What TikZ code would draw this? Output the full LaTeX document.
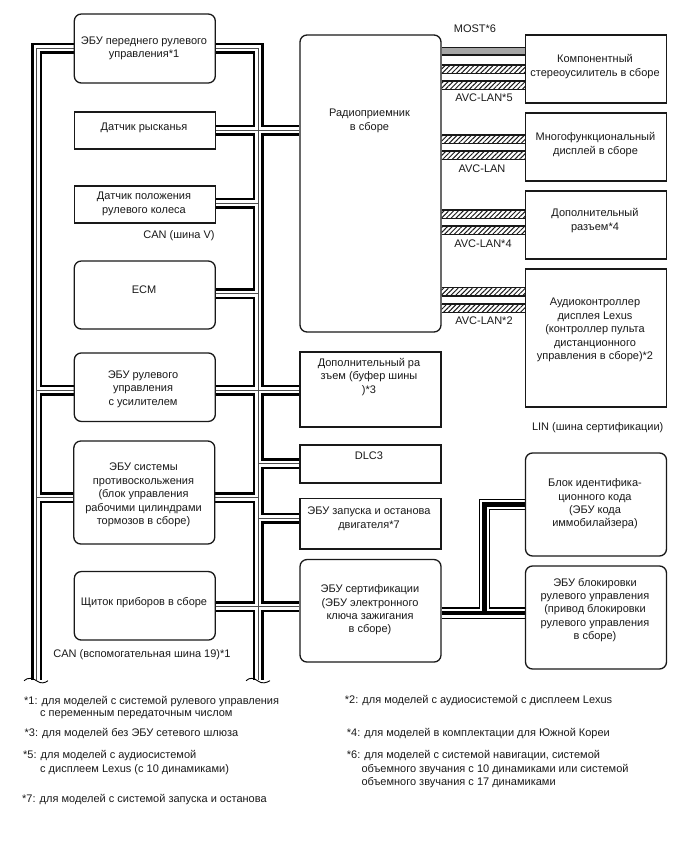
\documentclass[tikz,border=0pt]{standalone}
\usepackage{fontspec}
\setmainfont{Liberation Sans}
\usetikzlibrary{patterns.meta}
\pgfdeclarelayer{wiring}
\pgfsetlayers{wiring,main}
\tikzset{
  sqbox/.style={draw=black!90,line width=1.3pt,fill=white,inner sep=0pt,minimum width=#1},
  sqbox/.default=141pt,
  rbox/.style={sqbox=#1,rounded corners=7pt},
  rbox/.default=141pt,
  lbl/.style={font=\fontsize{11}{13.4}\selectfont,align=center,inner sep=0pt,text=black!90},
  note/.style={font=\fontsize{11}{13.4}\selectfont,align=left,anchor=west,inner sep=0pt,text=black!90},
  canA/.style={line width=11pt,draw=black},
  canB/.style={line width=6pt,draw=white},
  canC/.style={line width=1pt,draw=black!70},
  linA/.style={line width=11.4pt,draw=black},
  linB/.style={line width=9pt,draw=white},
  linC/.style={line width=4.8pt,draw=black},
  avc/.style={pattern={Lines[angle=45,distance=3.4pt,line width=1pt]},pattern color=black!90},
  most/.style={fill=black!35},
  barrim/.style={line width=1.3pt,draw=black!90},
  wave/.style={line width=0.9pt,draw=black}
}
\begin{document}
\begin{tikzpicture}[x=1pt,y=-1pt]
\useasboundingbox (0,0) rectangle (688,852);

% Bus trunks and junction points
\coordinate (LT) at (36.5,48);
\coordinate (RT) at (258,48);
\coordinate (LB) at (36.5,680);
\coordinate (RB) at (258,680);
\coordinate (jYaw) at (258,130);
\coordinate (jAngle) at (258,203);
\coordinate (jEcm) at (258,293.7);
\coordinate (jEps) at (258,390);
\coordinate (jAbs) at (258,497.5);
\coordinate (jDlc) at (258,463.5);
\coordinate (jStop) at (258,518);
\coordinate (jMeter) at (258,606.5);
\coordinate (kEps) at (36.5,390);
\coordinate (kAbs) at (36.5,497.5);
\coordinate (jLin) at (484.5,613);
\coordinate (jLinUp) at (484.5,504.3);

% Units on the left column
\node[rbox,minimum height=69pt] (front) at (144.8,48.5) {};
\node[sqbox,minimum height=37pt] (yaw) at (144.8,130.5) {};
\node[sqbox,minimum height=37pt] (angle) at (144.8,204.5) {};
\node[rbox,minimum height=68pt] (ecm) at (144.8,295) {};
\node[rbox,minimum height=68.5pt] (eps) at (144.8,387.2) {};
\node[rbox,minimum height=103pt] (abs) at (144.3,492.5) {};
\node[rbox,minimum height=68.5pt] (meter) at (144.8,605.8) {};

% Units on the middle column
\node[rbox,minimum height=297pt] (radio) at (370.5,183.5) {};
\node[sqbox,minimum height=75pt] (buffer) at (370.5,389.5) {};
\node[sqbox,minimum height=38pt] (dlc) at (370.5,464) {};
\node[sqbox,minimum height=50.5pt] (stop) at (370.5,523.8) {};
\node[rbox,minimum height=102.5pt] (cert) at (370.5,610.8) {};

% Units on the right column
\node[sqbox,minimum height=68pt] (amp) at (596,69) {};
\node[sqbox,minimum height=68pt] (mfd) at (596,147) {};
\node[sqbox,minimum height=68pt] (aux) at (596,225) {};
\node[sqbox,minimum height=138pt] (ctrl) at (596,338) {};
\node[rbox,minimum height=103pt] (ident) at (596,504.5) {};
\node[rbox,minimum height=103pt] (lock) at (596,617.5) {};

\begin{pgfonlayer}{wiring}
% CAN buses, built up from three strokes
\foreach \st in {canA,canB,canC}{
  \draw[\st] (LB) -- (LT) -- (front.west |- LT);
  \draw[\st] (RB) -- (RT) -- (front.east |- RT);
  \draw[\st] (yaw.east |- jYaw) -- (radio.west |- jYaw);
  \draw[\st] (angle.east |- jAngle) -- (jAngle);
  \draw[\st] (ecm.east |- jEcm) -- (jEcm);
  \draw[\st] (eps.east |- jEps) -- (buffer.west |- jEps);
  \draw[\st] (kEps) -- (eps.west |- kEps);
  \draw[\st] (abs.east |- jAbs) -- (jAbs);
  \draw[\st] (kAbs) -- (abs.west |- kAbs);
  \draw[\st] (jDlc) -- (dlc.west |- jDlc);
  \draw[\st] (jStop) -- (stop.west |- jStop);
  \draw[\st] (meter.east |- jMeter) -- (cert.west |- jMeter);
}
% LIN bus between the certification ECU and its two partners
\foreach \st in {linA,linB,linC}{
  \draw[\st] (cert.east |- jLin) -- (lock.west |- jLin);
  \draw[\st] (jLin) -- (jLinUp) -- (ident.west |- jLinUp);
}
% MOST and AVC-LAN links
\path[most] (radio.east |- 0,47.3) rectangle (amp.west |- 0,55);
\draw[barrim] (radio.east |- 0,47.3) -- (amp.west |- 0,47.3) (radio.east |- 0,55) -- (amp.west |- 0,55);
\foreach \t/\b/\dest in {65/73.3/amp,81/89.7/amp,135/143.3/mfd,151/159.3/mfd,210/218.3/aux,226/234.3/aux,287.7/296/ctrl,304/312.3/ctrl}{
  \path[avc] (radio.east |- 0,\t) rectangle (\dest.west |- 0,\b);
  \draw[barrim] (radio.east |- 0,\t) -- (\dest.west |- 0,\t) (radio.east |- 0,\b) -- (\dest.west |- 0,\b);
}
\end{pgfonlayer}

% Broken ends of the CAN trunks
\draw[wave] (24,680.7) .. controls (28,677) and (33,678) .. (37,681) .. controls (41,684) and (45,683) .. (48,680.7);
\draw[wave] (246,680.7) .. controls (250,677) and (254,678) .. (258,681) .. controls (262,684) and (266,683) .. (270,680.7);

% Labels of the units
\node[lbl] (tFront) at (144,48) {ЭБУ переднего рулевого\\управления*1};
\node[lbl] (tYaw) at (144,128) {Датчик рысканья};
\node[lbl] (tAngle) at (144,204) {Датчик положения\\рулевого колеса};
\node[lbl] (tEcm) at (144,290) {ECM};
\node[lbl] (tEps) at (143,389) {ЭБУ рулевого\\управления\\с усилителем};
\node[lbl] (tAbs) at (143.5,495) {ЭБУ системы\\противоскольжения\\(блок управления\\рабочими цилиндрами\\тормозов в сборе)};
\node[lbl] (tMeter) at (144,603) {Щиток приборов в сборе};
\node[lbl] (tRadio) at (369.5,120.7) {Радиоприемник\\в сборе};
\node[lbl] (tBuffer) at (369,376.7) {Дополнительный ра\\зъем (буфер шины\\)*3};
\node[lbl] (tDlc) at (369,455.7) {DLC3};
\node[lbl] (tStop) at (369,518.8) {ЭБУ запуска и останова\\двигателя*7};
\node[lbl] (tCert) at (370,610) {ЭБУ сертификации\\(ЭБУ электронного\\ключа зажигания\\в сборе)};
\node[lbl] (tAmp) at (595,66.5) {Компонентный\\стереоусилитель в сборе};
\node[lbl] (tMfd) at (595.5,144.7) {Многофункциональный\\дисплей в сборе};
\node[lbl] (tAux) at (595,220.5) {Дополнительный\\разъем*4};
\node[lbl] (tCtrl) at (595,330) {Аудиоконтроллер\\дисплея Lexus\\(контроллер пульта\\дистанционного\\управления в сборе)*2};
\node[lbl] (tIdent) at (595,504) {Блок идентифика-\\ционного кода\\(ЭБУ кода\\иммобилайзера)};
\node[lbl] (tLock) at (595,610) {ЭБУ блокировки\\рулевого управления\\(привод блокировки\\рулевого управления\\в сборе)};

% Bus names
\node[lbl] (nCanV) at (179,236) {CAN (шина V)};
\node[lbl] (nCan19) at (142,655) {CAN (вспомогательная шина 19)*1};
\node[lbl] (nMost) at (475,29) {MOST*6};
\node[lbl] (nAvc5) at (484,98) {AVC-LAN*5};
\node[lbl] (nAvc) at (482,169) {AVC-LAN};
\node[lbl] (nAvc4) at (483,244) {AVC-LAN*4};
\node[lbl] (nAvc2) at (484,320.7) {AVC-LAN*2};
\node[lbl] (nLin) at (597.7,427.3) {LIN (шина сертификации)};

% Footnotes
\node[note] (f1) at (24,701.7) {*1: для моделей с системой рулевого управления};
\node[note] (f1b) at (40,714.3) {с переменным передаточным числом};
\node[note] (f3) at (24.5,733.3) {*3: для моделей без ЭБУ сетевого шлюза};
\node[note] (f5) at (23,756) {*5: для моделей с аудиосистемой};
\node[note] (f5b) at (40,770) {с дисплеем Lexus (с 10 динамиками)};
\node[note] (f7) at (22,799.3) {*7: для моделей с системой запуска и останова};
\node[note] (f2) at (344.7,700.7) {*2: для моделей с аудиосистемой с дисплеем Lexus};
\node[note] (f4) at (346.7,733.3) {*4: для моделей в комплектации для Южной Кореи};
\node[note] (f6) at (346.7,756) {*6: для моделей с системой навигации, системой};
\node[note] (f6b) at (361.3,770) {объемного звучания с 10 динамиками или системой};
\node[note] (f6c) at (361.3,783) {объемного звучания с 17 динамиками};
\end{tikzpicture}
\end{document}
